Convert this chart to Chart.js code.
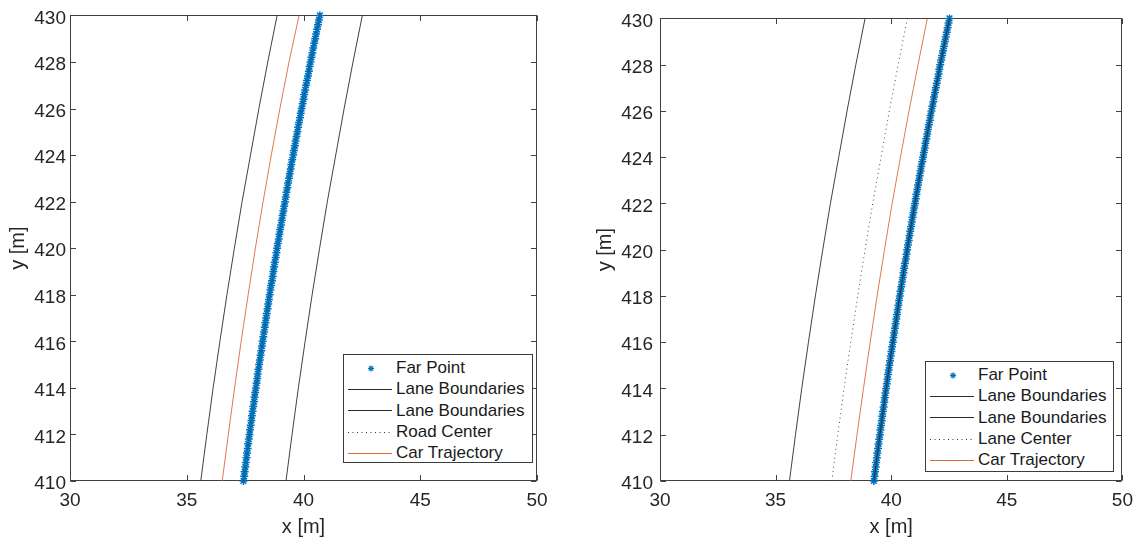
<!DOCTYPE html>
<html>
<head>
<meta charset="utf-8">
<script src="https://cdn.jsdelivr.net/npm/chart.js@4.4.1/dist/chart.umd.min.js"></script>
<style>
  body { margin: 0; background: #fff; }
  #wrap { position: relative; width: 1141px; height: 543px; overflow: hidden; font-family: "Liberation Sans", Arial, sans-serif; }
  canvas { position: absolute; top: 0; }
  .legend { position: absolute; background: #fff; border: 1px solid #3c3c3c; box-sizing: border-box; padding-top: 2.5px; }
  .legend .row { height: 21.3px; display: flex; align-items: center; font-size: 17px; color: #1a1a1a; white-space: nowrap; }
  .legend svg { flex: none; margin-right: 2px; }
</style>
</head>
<body>
<div id="wrap">
  <canvas id="left" width="570" height="543" style="left:0"></canvas>
  <canvas id="right" width="571" height="543" style="left:570px"></canvas>
  <div class="legend" id="legLeft" style="left:343px; top:354px; width:190px; height:109px"></div>
  <div class="legend" id="legRight" style="left:925px; top:361px; width:189px; height:111px"></div>
</div>
<script>
// axis ticks
var xTicks = [30, 35, 40, 45, 50];
var yTicks = [410, 412, 414, 416, 418, 420, 422, 424, 426, 428, 430];

// road geometry sampled every 2 m of y
var roadY = [410, 412, 414, 416, 418, 420, 422, 424, 426, 428, 430];
var laneLeftX = [35.60, 35.86, 36.13, 36.42, 36.72, 37.04, 37.37, 37.73, 38.09, 38.47, 38.87];
var laneRightX = [39.25, 39.51, 39.78, 40.07, 40.37, 40.69, 41.02, 41.38, 41.74, 42.12, 42.52];
var centerX = [37.43, 37.69, 37.96, 38.25, 38.55, 38.87, 39.20, 39.56, 39.92, 40.30, 40.70];
var carLeftX = [36.52, 36.78, 37.05, 37.33, 37.63, 37.94, 38.27, 38.62, 38.99, 39.38, 39.81];
var carRightX = [38.25, 38.52, 38.80, 39.09, 39.39, 39.71, 40.04, 40.40, 40.77, 41.16, 41.56];

// far point samples
var farY = [
  410.0, 410.2, 410.4, 410.6, 410.8, 411.0, 411.2, 411.4, 411.6, 411.8,
  412.0, 412.2, 412.4, 412.6, 412.8, 413.0, 413.2, 413.4, 413.6, 413.8,
  414.0, 414.2, 414.4, 414.6, 414.8, 415.0, 415.2, 415.4, 415.6, 415.8,
  416.0, 416.2, 416.4, 416.6, 416.8, 417.0, 417.2, 417.4, 417.6, 417.8,
  418.0, 418.2, 418.4, 418.6, 418.8, 419.0, 419.2, 419.4, 419.6, 419.8,
  420.0, 420.2, 420.4, 420.6, 420.8, 421.0, 421.2, 421.4, 421.6, 421.8,
  422.0, 422.2, 422.4, 422.6, 422.8, 423.0, 423.2, 423.4, 423.6, 423.8,
  424.0, 424.2, 424.4, 424.6, 424.8, 425.0, 425.2, 425.4, 425.6, 425.8,
  426.0, 426.2, 426.4, 426.6, 426.8, 427.0, 427.2, 427.4, 427.6, 427.8,
  428.0, 428.2, 428.4, 428.6, 428.8, 429.0, 429.2, 429.4, 429.6, 429.8,
  430.0
];
var farLeftX = [
  37.43, 37.46, 37.48, 37.51, 37.53, 37.56, 37.58, 37.61, 37.63, 37.66,
  37.69, 37.71, 37.74, 37.77, 37.79, 37.82, 37.85, 37.88, 37.90, 37.93,
  37.96, 37.99, 38.02, 38.04, 38.07, 38.10, 38.13, 38.16, 38.19, 38.22,
  38.25, 38.28, 38.31, 38.34, 38.37, 38.40, 38.43, 38.46, 38.49, 38.52,
  38.55, 38.58, 38.61, 38.65, 38.68, 38.71, 38.74, 38.77, 38.81, 38.84,
  38.87, 38.90, 38.94, 38.97, 39.00, 39.04, 39.07, 39.10, 39.14, 39.17,
  39.21, 39.24, 39.27, 39.31, 39.34, 39.38, 39.41, 39.45, 39.48, 39.52,
  39.56, 39.59, 39.63, 39.66, 39.70, 39.74, 39.77, 39.81, 39.85, 39.88,
  39.92, 39.96, 40.00, 40.03, 40.07, 40.11, 40.15, 40.19, 40.23, 40.26,
  40.30, 40.34, 40.38, 40.42, 40.46, 40.50, 40.54, 40.58, 40.62, 40.66,
  40.70
];
var farRightX = [
  39.25, 39.28, 39.30, 39.33, 39.35, 39.38, 39.40, 39.43, 39.45, 39.48,
  39.51, 39.53, 39.56, 39.59, 39.61, 39.64, 39.67, 39.70, 39.72, 39.75,
  39.78, 39.81, 39.84, 39.86, 39.89, 39.92, 39.95, 39.98, 40.01, 40.04,
  40.07, 40.10, 40.13, 40.16, 40.19, 40.22, 40.25, 40.28, 40.31, 40.34,
  40.37, 40.40, 40.43, 40.47, 40.50, 40.53, 40.56, 40.59, 40.63, 40.66,
  40.69, 40.72, 40.76, 40.79, 40.82, 40.86, 40.89, 40.92, 40.96, 40.99,
  41.03, 41.06, 41.09, 41.13, 41.16, 41.20, 41.23, 41.27, 41.30, 41.34,
  41.38, 41.41, 41.45, 41.48, 41.52, 41.56, 41.59, 41.63, 41.67, 41.70,
  41.74, 41.78, 41.82, 41.85, 41.89, 41.93, 41.97, 42.01, 42.05, 42.08,
  42.12, 42.16, 42.20, 42.24, 42.28, 42.32, 42.36, 42.40, 42.44, 42.48,
  42.52
];

var BLUE = '#0072BD';
var ORANGE = '#DB6A38';
var LINE = '#2b2b2b';
var INK = '#262626';

Chart.defaults.font.family = "'Liberation Sans', Arial, sans-serif";
Chart.defaults.color = INK;

function pts(xs, ys) {
  return xs.map(function (x, i) { return { x: x, y: ys[i] }; });
}

function farSet(xs) {
  return {
    label: 'Far Point', data: pts(xs, farY), showLine: false,
    pointStyle: 'star', pointRadius: 4, pointBorderWidth: 1.5,
    borderColor: BLUE, backgroundColor: BLUE, order: 5, clip: false
  };
}
function lineSet(label, xs, color, order, dash) {
  return {
    label: label, data: pts(xs, roadY), showLine: true, pointRadius: 0,
    borderColor: color, borderWidth: 0.9, borderDash: dash || [], order: order
  };
}

// box around the plot area with inward ticks on all four sides
var axisBox = {
  id: 'axisBox',
  beforeDatasetsDraw: function (chart) {
    var a = chart.chartArea, ctx = chart.ctx;
    var sx = chart.scales.x, sy = chart.scales.y;
    var L = Math.round(a.left) + 0.5, R = Math.round(a.right) - 0.5;
    var T = Math.round(a.top) + 0.5, B = Math.round(a.bottom) - 0.5;
    var len = 5.5;
    ctx.save();
    ctx.strokeStyle = '#404040';
    ctx.lineWidth = 1;
    ctx.strokeRect(L, T, R - L, B - T);
    ctx.beginPath();
    sx.ticks.forEach(function (t) {
      var px = Math.round(sx.getPixelForValue(t.value)) + 0.5;
      ctx.moveTo(px, B); ctx.lineTo(px, B - len);
      ctx.moveTo(px, T); ctx.lineTo(px, T + len);
    });
    sy.ticks.forEach(function (t) {
      var py = Math.round(sy.getPixelForValue(t.value)) + 0.5;
      ctx.moveTo(L, py); ctx.lineTo(L + len, py);
      ctx.moveTo(R, py); ctx.lineTo(R - len, py);
    });
    ctx.stroke();
    ctx.restore();
  }
};

function makeChart(id, datasets, o) {
  return new Chart(document.getElementById(id), {
    type: 'scatter',
    data: { datasets: datasets },
    plugins: [axisBox],
    options: {
      responsive: false,
      animation: false,
      events: [],
      layout: { padding: { left: 0, top: 15, right: o.padRight, bottom: 0 } },
      plugins: { legend: { display: false }, tooltip: { enabled: false } },
      scales: {
        x: {
          type: 'linear', min: 30, max: 50,
          afterBuildTicks: function (s) { s.ticks = xTicks.map(function (v) { return { value: v }; }); },
          afterFit: function (s) { s.height = 62; },
          grid: { display: false, drawTicks: false },
          border: { display: false },
          ticks: { padding: 8, font: { size: 19 }, color: INK, maxRotation: 0 },
          title: { display: true, text: 'x [m]', font: { size: 20 }, color: INK, padding: { top: 0, bottom: 4 } }
        },
        y: {
          type: 'linear', min: 410, max: 430,
          afterBuildTicks: function (s) { s.ticks = yTicks.map(function (v) { return { value: v }; }); },
          afterFit: function (s) { s.width = o.yWidth; },
          grid: { display: false, drawTicks: false },
          border: { display: false },
          ticks: { padding: o.yPad, labelOffset: 3, font: { size: 19 }, color: INK },
          title: { display: true, text: 'y [m]', font: { size: 20 }, color: INK, padding: { top: o.titlePad, bottom: 0 } }
        }
      }
    }
  });
}

function buildLegend(chart, el) {
  chart.data.datasets.forEach(function (ds) {
    var row = document.createElement('div');
    row.className = 'row';
    var sw;
    if (ds.showLine === false) {
      var c = ds.borderColor;
      sw = '<svg width="50" height="21"><g stroke="' + c + '" stroke-width="1.3">' +
        '<line x1="24" y1="10.5" x2="30" y2="10.5"/><line x1="27" y1="7.5" x2="27" y2="13.5"/>' +
        '<line x1="24.9" y1="8.4" x2="29.1" y2="12.6"/><line x1="24.9" y1="12.6" x2="29.1" y2="8.4"/></g></svg>';
    } else {
      var dash = ds.borderDash && ds.borderDash.length ? ' stroke-dasharray="' + ds.borderDash.join(' ') + '"' : '';
      sw = '<svg width="50" height="21"><line x1="4" y1="10.5" x2="48" y2="10.5" stroke="' + ds.borderColor +
        '" stroke-width="1"' + dash + '/></svg>';
    }
    row.innerHTML = sw + '<span>' + ds.label + '</span>';
    el.appendChild(row);
  });
}

var leftChart = makeChart('left', [
  farSet(farLeftX),
  lineSet('Lane Boundaries', laneLeftX, LINE, 4),
  lineSet('Lane Boundaries', laneRightX, LINE, 3),
  lineSet('Road Center', centerX, '#333333', 2, [1, 3.5]),
  lineSet('Car Trajectory', carLeftX, ORANGE, 1)
], { padRight: 33, yWidth: 70, yPad: 4, titlePad: 6 });

var rightChart = makeChart('right', [
  farSet(farRightX),
  lineSet('Lane Boundaries', laneLeftX, LINE, 4),
  lineSet('Lane Boundaries', laneRightX, LINE, 3),
  lineSet('Lane Center', centerX, '#333333', 2, [1, 3.5]),
  lineSet('Car Trajectory', carRightX, ORANGE, 1)
], { padRight: 14, yWidth: 90, yPad: 7, titlePad: 23 });

buildLegend(leftChart, document.getElementById('legLeft'));
buildLegend(rightChart, document.getElementById('legRight'));
</script>
</body>
</html>
